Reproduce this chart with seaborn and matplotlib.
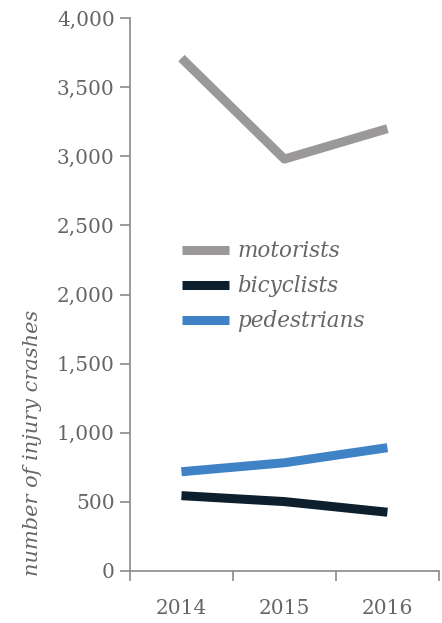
import matplotlib
matplotlib.use('Agg')
import matplotlib.pyplot as plt
import seaborn as sns
import pandas as pd

# Data
years = [2014, 2015, 2016]
motorists = [3710, 2980, 3200]
bicyclists = [545, 502, 425]
pedestrians = [718, 783, 892]
modes = ['motorists', 'bicyclists', 'pedestrians']
colors = ['#9b9899', '#0d1f2d', '#3f83c6']
y_ticks = [0, 500, 1000, 1500, 2000, 2500, 3000, 3500, 4000]

df = pd.DataFrame({
    'year': years * 3,
    'count': motorists + bicyclists + pedestrians,
    'mode': [m for m in modes for _ in years],
})

sns.set_style('white')
plt.rcParams['font.family'] = ['DejaVu Serif']
text_color = '#666666'
axis_color = '#8a8a8a'

fig = plt.figure(figsize=(4.42, 6.23), dpi=100)
ax = fig.add_axes([0.294, 0.0835, 0.699, 0.8875])

sns.lineplot(data=df, x='year', y='count', hue='mode', hue_order=modes,
             palette=colors, linewidth=6.5, ax=ax, legend=True)
for line in ax.get_lines():
    line.set_solid_capstyle('butt')
    line.set_solid_joinstyle('round')

ax.set_xlim(2013.5, 2016.5)
ax.set_ylim(0, 4000)
ax.set_yticks(y_ticks)
ax.set_yticklabels([f'{v:,}' for v in y_ticks])
ax.set_xticks([2013.5, 2014.5, 2015.5, 2016.5])
ax.set_xticklabels([])
ax.set_xticks(years, minor=True)
ax.set_xticklabels([str(y) for y in years], minor=True)

ax.tick_params(axis='y', which='major', length=7, width=1.2, color=axis_color,
               labelcolor=text_color, labelsize=14.5, pad=4, left=True)
ax.tick_params(axis='x', which='major', length=7, width=1.2, color=axis_color,
               bottom=True)
ax.tick_params(axis='x', which='minor', length=0, labelcolor=text_color,
               labelsize=14.5, pad=20)

for side in ['top', 'right']:
    ax.spines[side].set_visible(False)
for side in ['left', 'bottom']:
    ax.spines[side].set_color(axis_color)
    ax.spines[side].set_linewidth(1.2)

ax.set_xlabel('')
ax.set_ylabel('number of injury crashes', fontsize=15, style='italic',
              color=text_color)
ax.yaxis.set_label_coords(-0.285, 0.231)

leg = ax.legend(loc='upper left', bbox_to_anchor=(0.167, 0.598), frameon=False,
                handlelength=2.2, handletextpad=0.4, labelspacing=0.6,
                borderaxespad=0, borderpad=0,
                prop={'size': 15.5, 'style': 'italic'})
for t in leg.get_texts():
    t.set_color(text_color)
for h in leg.get_lines():
    h.set_linewidth(6.5)
    h.set_solid_capstyle('butt')

fig.savefig('out.png', dpi=100)
